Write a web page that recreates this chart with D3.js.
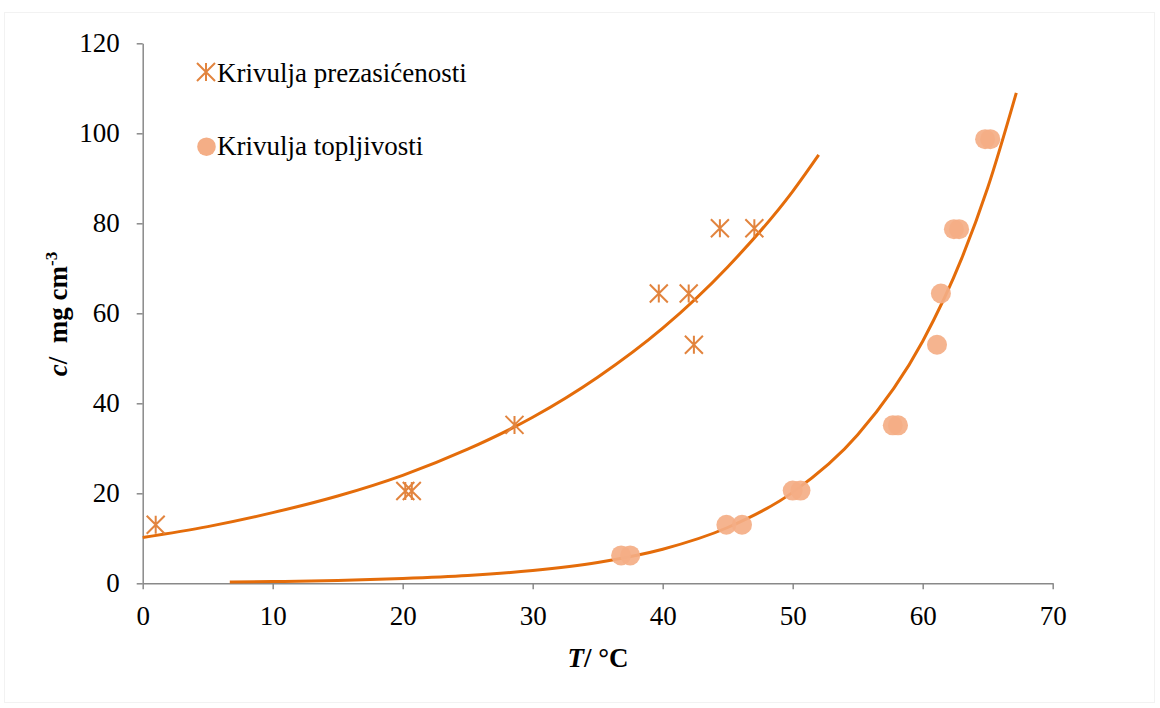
<!DOCTYPE html>
<html>
<head>
<meta charset="utf-8">
<script src="https://cdn.jsdelivr.net/npm/d3@7"></script>
<style>
  body { margin: 0; background: #fff; }
  text { font-family: "Liberation Serif", "Times New Roman", serif; }
</style>
</head>
<body>
<div id="chart"></div>
<script>
// DATA
var xTicks = [0, 10, 20, 30, 40, 50, 60, 70];
var yTicks = [0, 20, 40, 60, 80, 100, 120];

// Krivulja prezasićenosti (markers)
var prezT = [1, 20.2, 20.7, 28.6, 39.7, 42.0, 42.4, 44.4, 47.05];
var prezC = [13, 20.5, 20.5, 35.2, 64.4, 64.4, 53.0, 78.9, 78.9];

// Krivulja topljivosti (markers)
var toplT = [36.8, 37.5, 44.9, 46.1, 50.0, 50.6, 57.7, 58.1, 61.1, 61.4, 62.4, 62.8, 64.8, 65.2];
var toplC = [6.2, 6.2, 13.0, 13.0, 20.6, 20.6, 35.1, 35.1, 53.0, 64.4, 78.7, 78.7, 98.7, 98.7];

// trend lines
var prezFitT = [0, 5, 10, 15, 20, 25, 30, 35, 40, 45, 50, 52];
var prezFitC = [10.2, 12.6, 15.7, 19.4, 24.0, 29.8, 36.9, 45.8, 56.7, 70.3, 87.1, 95.2];
var toplFitT = [6.7, 10, 15, 20, 25, 30, 35, 40, 45, 50, 55, 60, 63, 65, 67.2];
var toplFitC = [0.29, 0.39, 0.63, 1.07, 1.74, 2.85, 4.64, 7.58, 12.4, 20.2, 33.0, 53.8, 72.2, 87.9, 109];

var width = 1160, height = 708;
var fontSize = "27px";
var svg = d3.select("#chart").append("svg")
            .attr("width", width)
            .attr("height", height);

// faint outer frame
svg.append("rect").attr("x", 4.5).attr("y", 12.5).attr("width", 1150).attr("height", 690)
   .style("fill", "none").style("stroke", "#f2f2f2");

var x = d3.scaleLinear().domain([0, 70]).range([142.7, 1052.7]);
var y = d3.scaleLinear().domain([0, 120]).range([583.3, 43.3]);

var axisColor = "#898989";

// AXES
var xAxis = svg.append("g").attr("transform", "translate(0," + y(0) + ")")
               .call(d3.axisBottom(x).tickValues(xTicks).tickSize(6).tickPadding(17).tickSizeOuter(0));
var yAxis = svg.append("g").attr("transform", "translate(" + x(0) + ",0)")
               .call(d3.axisLeft(y).tickValues(yTicks).tickSize(6).tickPadding(17).tickSizeOuter(0));

[xAxis, yAxis].forEach(function(a) {
  a.select(".domain").style("stroke", axisColor).style("stroke-width", 1.5);
  a.selectAll(".tick line").style("stroke", axisColor).style("stroke-width", 1.5);
  a.selectAll(".tick text").style("font-family", "'Liberation Serif', serif")
   .style("font-size", fontSize).style("fill", "#000");
});
yAxis.selectAll(".tick text").attr("dy", "0.32em");

// TREND LINES
var line = d3.line().x(function(d) { return x(d[0]); }).y(function(d) { return y(d[1]); })
             .curve(d3.curveMonotoneX);
var lineColor = "#E46C0A";

svg.append("path").datum(d3.zip(prezFitT, prezFitC)).attr("d", line)
   .style("fill", "none").style("stroke", lineColor).style("stroke-width", 3);
svg.append("path").datum(d3.zip(toplFitT, toplFitC)).attr("d", line)
   .style("fill", "none").style("stroke", lineColor).style("stroke-width", 3);

// MARKERS
var crossColor = "#E2843E";
var circleColor = "#F4AE86";

function drawStar(g, cx, cy, r) {
  g.append("path")
   .attr("d", "M" + (cx - r) + "," + (cy - r) + "L" + (cx + r) + "," + (cy + r) +
              "M" + (cx - r) + "," + (cy + r) + "L" + (cx + r) + "," + (cy - r) +
              "M" + cx + "," + (cy - r) + "L" + cx + "," + (cy + r))
   .style("fill", "none").style("stroke", crossColor).style("stroke-width", 2);
}

svg.append("g").selectAll("circle").data(d3.zip(toplT, toplC)).enter()
   .append("circle")
   .attr("cx", function(d) { return x(d[0]); })
   .attr("cy", function(d) { return y(d[1]); })
   .attr("r", 10)
   .style("fill", circleColor).style("opacity", 0.92);

var stars = svg.append("g");
d3.zip(prezT, prezC).forEach(function(d) { drawStar(stars, x(d[0]), y(d[1]), 9); });

// LEGEND
drawStar(svg, 206, 72, 9);
svg.append("text").attr("x", 217).attr("y", 82).style("font-size", fontSize).text("Krivulja prezasićenosti");
svg.append("circle").attr("cx", 206.5).attr("cy", 146.7).attr("r", 9.3).style("fill", circleColor);
svg.append("text").attr("x", 217).attr("y", 155).style("font-size", fontSize).text("Krivulja topljivosti");

// AXIS TITLES
var yt = svg.append("text").attr("transform", "translate(67,314) rotate(-90)")
            .style("text-anchor", "middle").style("font-size", fontSize).style("font-weight", "bold");
yt.append("tspan").style("font-style", "italic").text("c");
yt.append("tspan").attr("xml:space", "preserve").style("white-space", "pre").text("/  mg cm");
yt.append("tspan").attr("dy", "-10").style("font-size", "17px").text("-3");

var xt = svg.append("text").attr("x", 598).attr("y", 667)
            .style("text-anchor", "middle").style("font-size", fontSize).style("font-weight", "bold");
xt.append("tspan").style("font-style", "italic").text("T");
xt.append("tspan").text("/ °C");
</script>
</body>
</html>
